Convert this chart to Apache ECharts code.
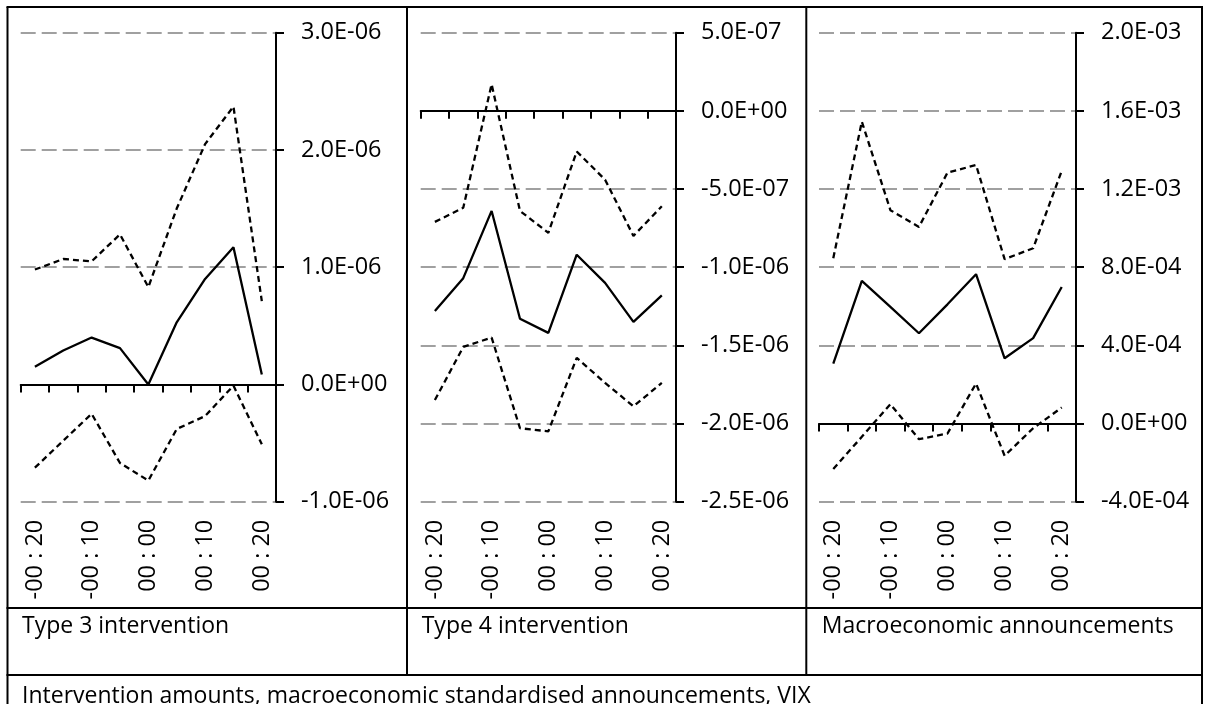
<!DOCTYPE html>
<html><head><meta charset="utf-8">
<script src="https://cdn.jsdelivr.net/npm/echarts@6/dist/echarts.min.js"></script>
<style>html,body{margin:0;padding:0;background:#fff}#c{width:1207px;height:704px}</style>
</head><body><div id="c"></div>
<script>
// ---- data ----
const categories = ['-00 : 20','-00 : 15','-00 : 10','-00 : 05','00 : 00','00 : 05','00 : 10','00 : 15','00 : 20'];
const panelTitles = ['Type 3 intervention','Type 4 intervention','Macroeconomic announcements'];
const footnote = 'Intervention amounts, macroeconomic standardised announcements, VIX';

const type3Mid   = [1.5e-7, 2.9e-7, 4.0e-7, 3.1e-7, 0, 5.3e-7, 9.0e-7, 1.17e-6, 8.5e-8];
const type3Upper = [9.8e-7, 1.07e-6, 1.05e-6, 1.28e-6, 8.3e-7, 1.50e-6, 2.05e-6, 2.37e-6, 7.1e-7];
const type3Lower = [-7.1e-7, -4.8e-7, -2.5e-7, -6.7e-7, -8.2e-7, -3.8e-7, -2.7e-7, -1e-8, -5.1e-7];

const type4Mid   = [-1.28e-6, -1.07e-6, -6.4e-7, -1.33e-6, -1.42e-6, -9.2e-7, -1.10e-6, -1.35e-6, -1.18e-6];
const type4Upper = [-7.1e-7, -6.2e-7, 1.7e-7, -6.4e-7, -7.8e-7, -2.6e-7, -4.4e-7, -8.0e-7, -6.1e-7];
const type4Lower = [-1.85e-6, -1.51e-6, -1.45e-6, -2.03e-6, -2.05e-6, -1.58e-6, -1.74e-6, -1.89e-6, -1.74e-6];

const macroMid   = [3.07e-4, 7.30e-4, 5.97e-4, 4.62e-4, 6.1e-4, 7.64e-4, 3.34e-4, 4.37e-4, 6.99e-4];
const macroUpper = [8.46e-4, 1.545e-3, 1.092e-3, 1.006e-3, 1.284e-3, 1.323e-3, 8.41e-4, 8.97e-4, 1.293e-3];
const macroLower = [-2.33e-4, -6.8e-5, 9.9e-5, -8.0e-5, -5.1e-5, 2.05e-4, -1.65e-4, -2.4e-5, 8.2e-5];

const yMin = [-1e-6, -2.5e-6, -4e-4];
const yMax = [3e-6, 5e-7, 2e-3];
const yInterval = [1e-6, 5e-7, 4e-4];

// ---- chart ----
const FONT = '"Open Sans", sans-serif';
const AXFS = 23.5, TFS = 23;
function fmt(v) {
  const s = Number(v).toExponential(1).toUpperCase();
  return s.replace(/E([+-])(\d+)$/, function (m, sign, d) { return 'E' + sign + (d.length < 2 ? '0' + d : d); });
}
const panels = [
  {left: 20.7, width: 255.3, mid: type3Mid, up: type3Upper, lo: type3Lower},
  {left: 420.7, width: 255.3, mid: type4Mid, up: type4Upper, lo: type4Lower},
  {left: 819, width: 257, mid: macroMid, up: macroUpper, lo: macroLower}
];
const grid = [], xAxis = [], yAxis = [], series = [];
panels.forEach(function (p, i) {
  grid.push({left: p.left, width: p.width, top: 32.7, height: 469, containLabel: false, outerBoundsMode: 'none'});
  xAxis.push({
    type: 'category', gridIndex: i, data: categories, boundaryGap: true, position: 'bottom',
    axisLine: {show: true, onZero: true, lineStyle: {color: '#000', width: 2}},
    axisTick: {show: true, length: 8, interval: 0, lineStyle: {color: '#000', width: 2}},
    axisLabel: {show: false}, splitLine: {show: false}
  });
  xAxis.push({
    type: 'category', gridIndex: i, data: categories, boundaryGap: true, position: 'bottom',
    axisLine: {show: false, onZero: false}, axisTick: {show: false}, splitLine: {show: false},
    axisLabel: {show: true, interval: 1, rotate: 90, margin: 18, fontSize: AXFS, fontFamily: FONT, color: '#000'}
  });
  yAxis.push({
    type: 'value', gridIndex: i, position: 'right', min: yMin[i], max: yMax[i], interval: yInterval[i],
    axisLine: {show: true, lineStyle: {color: '#000', width: 2}},
    axisTick: {show: true, length: 8, lineStyle: {color: '#000', width: 2}},
    axisLabel: {show: true, margin: 25, fontSize: AXFS, fontFamily: FONT, color: '#000', formatter: fmt},
    splitLine: {show: true, lineStyle: {color: '#a0a0a0', width: 2, type: [15, 6]}}
  });
  const mk = function (data, dashed) {
    return {
      type: 'line', xAxisIndex: i * 2, yAxisIndex: i, data: data, symbol: 'none', showSymbol: false,
      silent: true, z: 3,
      lineStyle: {color: '#000', width: 2.3, type: dashed ? [6, 4] : 'solid'}
    };
  };
  series.push(mk(p.up, true), mk(p.mid, false), mk(p.lo, true));
});

const lineStyle = {stroke: '#000', lineWidth: 2};
const graphic = [
  {type: 'line', shape: {x1: 7.5, y1: 7, x2: 7.5, y2: 710}, style: lineStyle},
  {type: 'line', shape: {x1: 1202, y1: 7, x2: 1202, y2: 710}, style: lineStyle},
  {type: 'line', shape: {x1: 6.5, y1: 7, x2: 1203, y2: 7}, style: lineStyle},
  {type: 'line', shape: {x1: 407, y1: 7, x2: 407, y2: 675}, style: lineStyle},
  {type: 'line', shape: {x1: 806.3, y1: 7, x2: 806.3, y2: 675}, style: lineStyle},
  {type: 'line', shape: {x1: 6.5, y1: 608, x2: 1203, y2: 608}, style: lineStyle},
  {type: 'line', shape: {x1: 6.5, y1: 675, x2: 1203, y2: 675}, style: lineStyle},
  {type: 'text', x: 22, y: 626, style: {text: panelTitles[0], fontSize: TFS, fontFamily: FONT, fill: '#000', verticalAlign: 'middle'}},
  {type: 'text', x: 421.7, y: 626, style: {text: panelTitles[1], fontSize: TFS, fontFamily: FONT, fill: '#000', verticalAlign: 'middle'}},
  {type: 'text', x: 821.7, y: 626, style: {text: panelTitles[2], fontSize: TFS, fontFamily: FONT, fill: '#000', verticalAlign: 'middle'}},
  {type: 'text', x: 22, y: 696, style: {text: footnote, fontSize: TFS, fontFamily: FONT, fill: '#000', verticalAlign: 'middle'}}
];

const chart = echarts.init(document.getElementById('c'), null, {renderer: 'canvas'});
chart.setOption({
  animation: false,
  backgroundColor: '#fff',
  grid: grid, xAxis: xAxis, yAxis: yAxis, series: series, graphic: graphic
});
</script>
</body></html>
